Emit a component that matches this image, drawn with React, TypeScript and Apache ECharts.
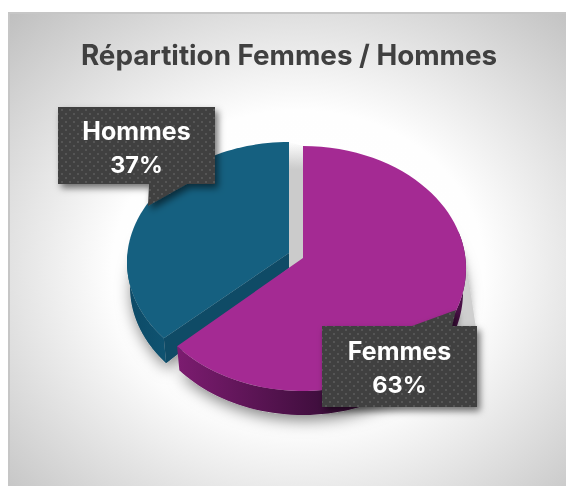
import React, { useEffect, useRef } from "react";
import * as echarts from "echarts";

const TITLE = "Répartition Femmes / Hommes";
const categories = ["Femmes", "Hommes"];
const values = [63, 37];

const FONT = "Inter";
const total = values.reduce((a, b) => a + b, 0);
const rad = (d: number) => (d * Math.PI) / 180;

type G = {
  ax: number; ay: number; cx: number; cy: number; rx: number; ry: number;
  lx: number; ly: number; lrx: number; lry: number; lay: number;
  top: string; sideFrom: string; sideTo: string; sideStart: number;
};
const geometry: G[] = [
  { ax: 303, ay: 258, cx: 303, cy: 268.5, rx: 163, ry: 122.5, lx: 303, ly: 292.5, lrx: 160, lry: 122.5, lay: 282,
    top: "#a42a93", sideFrom: "#7c1c70", sideTo: "#3f0e3d", sideStart: 70 },
  { ax: 289, ay: 253, cx: 289, cy: 262, rx: 162, ry: 120, lx: 289, ly: 287, lrx: 159, lry: 120, lay: 268,
    top: "#156080", sideFrom: "#0d4a66", sideTo: "#0f5371", sideStart: 0 },
];
const callouts = [
  { x: 322, y: 326, w: 155, h: 81, tail: [[412, 326], [456, 310], [452, 326]] },
  { x: 58, y: 107, w: 157, h: 77, tail: [[149, 184], [148, 206], [187, 184]] },
];

function dotTile() {
  const c = document.createElement("canvas");
  c.width = 8; c.height = 8;
  const g = c.getContext("2d")!;
  g.fillStyle = "#404040"; g.fillRect(0, 0, 8, 8);
  g.fillStyle = "#5e5e5e";
  [[2, 2], [6, 6]].forEach(([x, y]) => { g.beginPath(); g.arc(x, y, 0.9, 0, 7); g.fill(); });
  return c;
}

export default function App() {
  const ref = useRef<HTMLDivElement>(null);
  useEffect(() => {
    const chart = echarts.init(ref.current!, null, { renderer: "svg" });
    const tile = dotTile();
    const warp = (d: number) => d + 3.8 * Math.sin(rad(2 * d));
    const renderItem = (params: any, api: any) => {
      const i = params.dataIndex;
      const v = api.value(0);
      const before = values.slice(0, i).reduce((a, b) => a + b, 0);
      const a0 = (before / total) * 360;
      const a1 = ((before + v) / total) * 360;
      const g = geometry[i];
      const P = (d: number) => { const t = rad(warp(d)); return [g.cx + g.rx * Math.sin(t), g.cy - g.ry * Math.cos(t)]; };
      const Q = (d: number) => { const t = rad(warp(d)); return [g.lx + g.lrx * Math.sin(t), g.ly - g.lry * Math.cos(t)]; };
      const arc = (f: (d: number) => number[], s: number, e: number) => {
        const out: number[][] = [];
        const n = 80;
        for (let k = 0; k <= n; k++) out.push(f(s + ((e - s) * k) / n));
        return out;
      };
      const topFace = [[g.ax, g.ay], ...arc(P, a0, a1)];
      const lowFace = [[g.ax, g.lay], ...arc(Q, a0, a1)];
      const z = i === 0 ? 10 : 2;
      const children: any[] = [];
      // soft drop shadow
      children.push({
        type: "polygon", z2: 0, shape: { points: lowFace },
        style: { fill: "#bbbbbb", shadowBlur: 16, shadowColor: "rgba(0,0,0,0.5)", shadowOffsetX: 2, shadowOffsetY: 5 },
      });
      if (i === 0) {
        // shadow seen through the gap between the two slices
        const o = geometry[1];
        children.push({
          type: "polygon", z2: 1,
          shape: { points: [[o.ax, o.cy - o.ry], [g.ax, g.cy - g.ry], [g.ax, g.ay], [o.ax, o.lay]] },
          style: {
            fill: new echarts.graphic.LinearGradient(0, 0, 0, 1, [
              { offset: 0, color: "rgba(201,201,201,0)" },
              { offset: 0.22, color: "#cbcbcb" },
              { offset: 1, color: "#cbcbcb" },
            ]),
          },
        });
        // shadow wedge on the right of the rim
        children.push({
          type: "polygon", z2: 1,
          shape: { points: [[464, 250], [476, 328], [450, 328]] },
          style: { fill: "#cfcfcf", shadowBlur: 5, shadowColor: "rgba(0,0,0,0.12)" },
        });
      }
      const sideS = i === 0 ? g.sideStart : a0;
      const sideE = i === 0 ? a1 : 275;
      const side = [...arc(P, sideS, sideE), ...arc(Q, sideE, sideS)];
      children.push({
        type: "polygon", z2: z, shape: { points: side },
        style: {
          fill: new echarts.graphic.LinearGradient(1, 0, 0, 0, i === 0
            ? [{ offset: 0, color: "#4a1047" }, { offset: 0.5, color: "#3f0e3d" }, { offset: 1, color: g.sideFrom }]
            : [{ offset: 0, color: g.sideTo }, { offset: 1, color: g.sideFrom }]),
        },
      });
      if (i === 1) {
        const e = P(a0), l = Q(a0);
        children.push({
          type: "polygon", z2: z,
          shape: { points: [[g.ax, g.ay], e, l, [g.ax, g.lay]] },
          style: { fill: "#0f4b66" },
        });
      }
      children.push({ type: "polygon", z2: z + 1, shape: { points: topFace }, style: { fill: g.top } });

      const c = callouts[i];
      const pts = i === 0
        ? [[c.x, c.y], c.tail[0], c.tail[1], c.tail[2], [c.x + c.w, c.y], [c.x + c.w, c.y + c.h], [c.x, c.y + c.h]]
        : [[c.x, c.y], [c.x + c.w, c.y], [c.x + c.w, c.y + c.h], c.tail[2], c.tail[1], c.tail[0], [c.x, c.y + c.h]];
      children.push({
        type: "polygon", z2: 30, shape: { points: pts },
        style: {
          fill: { image: tile, repeat: "repeat" } as any,
          shadowBlur: 7, shadowColor: "rgba(0,0,0,0.55)", shadowOffsetX: 3, shadowOffsetY: 4,
        },
      });
      const pct = Math.round((v / total) * 100) + "%";
      const mx = c.x + c.w / 2;
      [categories[i], pct].forEach((t, k) => {
        children.push({
          type: "text", z2: 31,
          style: {
            text: t, x: mx, y: c.y + (i === 0 ? 25 : 24) + k * 33,
            fill: "#ffffff", font: `700 ${k === 0 ? 25 : 23.5}px ${FONT}`, align: "center", verticalAlign: "middle",
          },
        });
      });
      return { type: "group", children };
    };

    chart.setOption({
      animation: false,
      title: {
        text: TITLE, left: 284, top: 36, textAlign: "center",
        textStyle: { fontFamily: FONT, fontWeight: 700, fontSize: 27.8, color: "#404040" },
      },
      graphic: [
        {
          type: "rect", z: -1, silent: true,
          shape: { x: 8, y: 12, width: 558, height: 474 },
          style: {
            fill: new echarts.graphic.RadialGradient(0.52, 0.54, 0.74, [
              { offset: 0, color: "#ffffff" },
              { offset: 0.45, color: "#fefefe" },
              { offset: 1, color: "#c0c0c0" },
            ]),
          },
        },
        { type: "line", z: -1, silent: true, shape: { x1: 8, y1: 13, x2: 566, y2: 13 }, style: { stroke: "#c6c6c6", lineWidth: 2 } },
        { type: "line", z: -1, silent: true, shape: { x1: 9, y1: 13, x2: 9, y2: 486 }, style: { stroke: "#c6c6c6", lineWidth: 2 } },
      ],
      series: [
        {
          type: "custom",
          coordinateSystem: "none",
          renderItem,
          data: values.map((v, i) => ({ name: categories[i], value: [v] })),
        },
      ],
    });
    return () => chart.dispose();
  }, []);
  return <div ref={ref} style={{ position: "fixed", left: 0, top: 0, width: 566, height: 486 }} />;
}
